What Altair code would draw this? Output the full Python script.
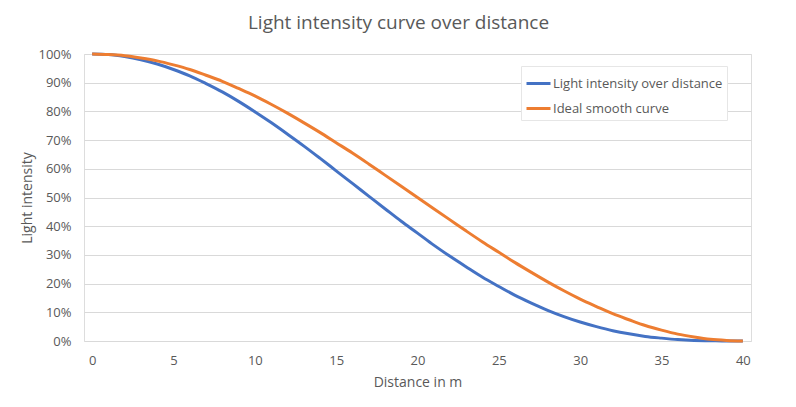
import altair as alt
import pandas as pd

distance = list(range(0, 41))
measured = [100, 99.8, 99.1, 98.0, 96.5, 94.6, 92.4, 89.7, 86.8, 83.5,
            79.9, 76.1, 72.1, 68.0, 63.7, 59.3, 54.9, 50.5, 46.1, 41.7,
            37.6, 33.4, 29.5, 25.8, 22.2, 19.0, 15.9, 13.2, 10.7, 8.5,
            6.6, 5.0, 3.6, 2.5, 1.6, 1.0, 0.5, 0.2, 0.1, 0.0, 0.0]
ideal = [100, 99.8, 99.4, 98.6, 97.6, 96.2, 94.6, 92.6, 90.5, 88.0,
         85.4, 82.5, 79.4, 76.1, 72.7, 69.1, 65.5, 61.7, 57.8, 53.9,
         50.0, 46.1, 42.2, 38.3, 34.5, 30.9, 27.3, 23.9, 20.6, 17.5,
         14.6, 12.0, 9.5, 7.4, 5.4, 3.8, 2.4, 1.4, 0.6, 0.2, 0.0]
series_names = ["Light intensity over distance", "Ideal smooth curve"]
series_colors = ["#4472C4", "#ED7D31"]
x_ticks = [0, 5, 10, 15, 20, 25, 30, 35, 40]

rows = []
for name, vals in zip(series_names, [measured, ideal]):
    for d, v in zip(distance, vals):
        rows.append({"Distance": d, "Intensity": v / 100.0, "Series": name})
df = pd.DataFrame(rows)

FONT = "Open Sans"
TXT = "#595959"
GRID = "#d9d9d9"

chart = alt.Chart(df).mark_line(strokeWidth=3, interpolate="monotone").encode(
    x=alt.X("Distance:Q",
            scale=alt.Scale(domain=[-0.5, 40.5], nice=False, zero=False),
            axis=alt.Axis(values=x_ticks, title="Distance in m", grid=False,
                          ticks=False, domain=False, labelPadding=13,
                          titlePadding=8, labelFontSize=13, titleFontSize=14,
                          labelColor=TXT, titleColor=TXT, labelFont=FONT,
                          titleFont=FONT, titleFontWeight="normal")),
    y=alt.Y("Intensity:Q",
            scale=alt.Scale(domain=[0, 1], nice=False),
            axis=alt.Axis(format=".0%", values=[i / 10 for i in range(11)],
                          title="Light intensity", grid=True, gridColor=GRID,
                          gridWidth=1, ticks=False, domain=False,
                          labelPadding=13, titlePadding=3, labelFontSize=13,
                          titleFontSize=14, labelColor=TXT, titleColor=TXT,
                          labelFont=FONT, titleFont=FONT,
                          titleFontWeight="normal")),
    color=alt.Color("Series:N",
                    scale=alt.Scale(domain=series_names, range=series_colors),
                    sort=series_names,
                    legend=alt.Legend(title=None, orient="none", legendX=437,
                                      legendY=12, symbolType="stroke",
                                      symbolSize=576, symbolStrokeWidth=3,
                                      labelFontSize=13, labelColor=TXT,
                                      labelFont=FONT, labelOffset=1,
                                      labelLimit=0, rowPadding=4, padding=4,
                                      fillColor="white", strokeColor="#e6e6e6")),
).properties(
    width=667,
    height=287,
    padding={"left": 76, "top": 46, "right": 37, "bottom": 58},
    autosize=alt.AutoSizeParams(type="none"),
    title=alt.TitleParams("Light intensity curve over distance", fontSize=19,
                          font=FONT, color=TXT, fontWeight="normal",
                          anchor="middle", dx=-19, offset=15),
).configure_view(stroke=None).configure(background="white")

chart.save("out.html", embed_options={"renderer": "svg", "actions": False})
